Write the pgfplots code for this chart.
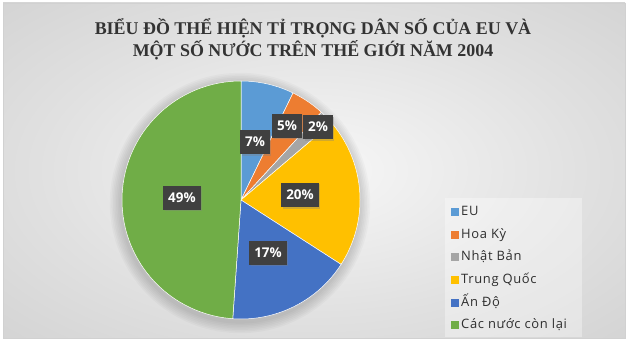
\documentclass[border=0pt]{standalone}
\usepackage{fontspec}
\setmainfont{Open Sans}
\newfontfamily\legfont{Open Sans}[LetterSpace=5]
\newfontfamily\lblfont{Open Sans Bold}
\newfontfamily\titlebold{Liberation Serif Bold}
\usepackage{pgfplots}
\usepackage{pgfplotstable}
\pgfplotsset{compat=1.18}
\usetikzlibrary{shadows}
\definecolor{cEU}{HTML}{5B9BD5}
\definecolor{cUS}{HTML}{ED7D31}
\definecolor{cJP}{HTML}{A5A5A5}
\definecolor{cCN}{HTML}{FFC000}
\definecolor{cIN}{HTML}{4472C4}
\definecolor{cRE}{HTML}{70AD47}
\definecolor{lblbg}{HTML}{404040}
\definecolor{titlec}{HTML}{333333}
\pgfdeclareradialshading{bgshade}{\pgfpoint{0bp}{0bp}}{color(0bp)=(white!97!black); color(22bp)=(white!88!black); color(50bp)=(white!78!black)}

% population share 2004 (%), order: EU, Hoa Ky, Nhat Ban, Trung Quoc, An Do, Cac nuoc con lai
\pgfplotstableread{
value
7.2
4.6
2.0
20.3
17.0
48.9
}\popdata
\pgfplotstablegetelem{0}{value}\of\popdata \let\vA\pgfplotsretval
\pgfplotstablegetelem{1}{value}\of\popdata \let\vB\pgfplotsretval
\pgfplotstablegetelem{2}{value}\of\popdata \let\vC\pgfplotsretval
\pgfplotstablegetelem{3}{value}\of\popdata \let\vD\pgfplotsretval
\pgfplotstablegetelem{4}{value}\of\popdata \let\vE\pgfplotsretval
\pgfplotstablegetelem{5}{value}\of\popdata \let\vF\pgfplotsretval
\pgfmathsetmacro\aA{90}
\pgfmathsetmacro\aB{\aA-3.6*\vA}
\pgfmathsetmacro\aC{\aB-3.6*\vB}
\pgfmathsetmacro\aD{\aC-3.6*\vC}
\pgfmathsetmacro\aE{\aD-3.6*\vD}
\pgfmathsetmacro\aF{\aE-3.6*\vE}
\pgfmathsetmacro\aG{\aF-3.6*\vF}

\begin{document}
\begin{tikzpicture}[
  lbl/.style={fill=lblbg, text=white, font=\lblfont\fontsize{13.5}{16}\selectfont,
    inner xsep=5bp, inner ysep=0bp, minimum height=24bp,
    drop shadow={shadow xshift=1.5bp, shadow yshift=-1.5bp, opacity=0.35}}]
\useasboundingbox (0,0) rectangle (627bp,342bp);
\fill[white] (0,0) rectangle (627bp,342bp);
\shade[shading=bgshade] (3bp,4bp) rectangle (625bp,339bp);
\draw[black!18, line width=0.6bp] (3bp,4bp) rectangle (625bp,339bp);
\fill[white, opacity=0.35] (445bp,5bp) rectangle (582bp,144bp);
% soft shadow behind the pie
\foreach \k in {1,...,7} {
  \fill[black, opacity=0.025] (240bp,139bp) circle[radius={119bp+\k*1.6bp}];
}
\node[align=center, text=titlec, font=\titlebold\fontsize{18}{22}\selectfont]
  at (313bp,303bp) {BIỂU ĐỒ THỂ HIỆN TỈ TRỌNG DÂN SỐ CỦA EU VÀ\\MỘT SỐ NƯỚC TRÊN THẾ GIỚI NĂM 2004};
\begin{axis}[
  at={(241bp,142bp)}, anchor=origin,
  x=119bp, y=119bp, xmin=-1, xmax=1, ymin=-1, ymax=1,
  enlargelimits=false, hide axis, clip=false, samples=90,
  area legend,
  legend image code/.code={\fill[#1,draw=none] (0bp,-4bp) rectangle (8bp,4bp);},
  legend cell align=left,
  legend style={at={(axis cs:1.765,-0.03)}, anchor=north west, draw=none, fill=none,
    font=\legfont\fontsize{13}{15}\selectfont, row sep=5.6bp, inner sep=0bp,
    nodes={inner sep=2bp, text height=10bp, text depth=3bp},
    text=black!82},
]
\addplot[fill=cEU, draw=white, line width=0.5bp, domain=\aB:\aA] ({cos(x)},{sin(x)}) -- (axis cs:0,0) -- cycle;
\addlegendentry{EU}
\addplot[fill=cUS, draw=white, line width=0.5bp, domain=\aC:\aB] ({cos(x)},{sin(x)}) -- (axis cs:0,0) -- cycle;
\addlegendentry{Hoa Kỳ}
\addplot[fill=cJP, draw=white, line width=0.5bp, domain=\aD:\aC] ({cos(x)},{sin(x)}) -- (axis cs:0,0) -- cycle;
\addlegendentry{Nhật Bản}
\addplot[fill=cCN, draw=white, line width=0.5bp, domain=\aE:\aD] ({cos(x)},{sin(x)}) -- (axis cs:0,0) -- cycle;
\addlegendentry{Trung Quốc}
\addplot[fill=cIN, draw=white, line width=0.5bp, domain=\aF:\aE] ({cos(x)},{sin(x)}) -- (axis cs:0,0) -- cycle;
\addlegendentry{Ấn Độ}
\addplot[fill=cRE, draw=white, line width=0.5bp, domain=\aG:\aF] ({cos(x)},{sin(x)}) -- (axis cs:0,0) -- cycle;
\addlegendentry{Các nước còn lại}
\node[lbl] at (axis cs:0.118,0.487) {7\%};
\node[lbl] at (axis cs:0.387,0.622) {5\%};
\node[lbl] at (axis cs:0.647,0.613) {2\%};
\node[lbl] at (axis cs:0.496,0.042) {20\%};
\node[lbl] at (axis cs:0.227,-0.445) {17\%};
\node[lbl] at (axis cs:-0.496,0.017) {49\%};
\end{axis}
\end{tikzpicture}
\end{document}
